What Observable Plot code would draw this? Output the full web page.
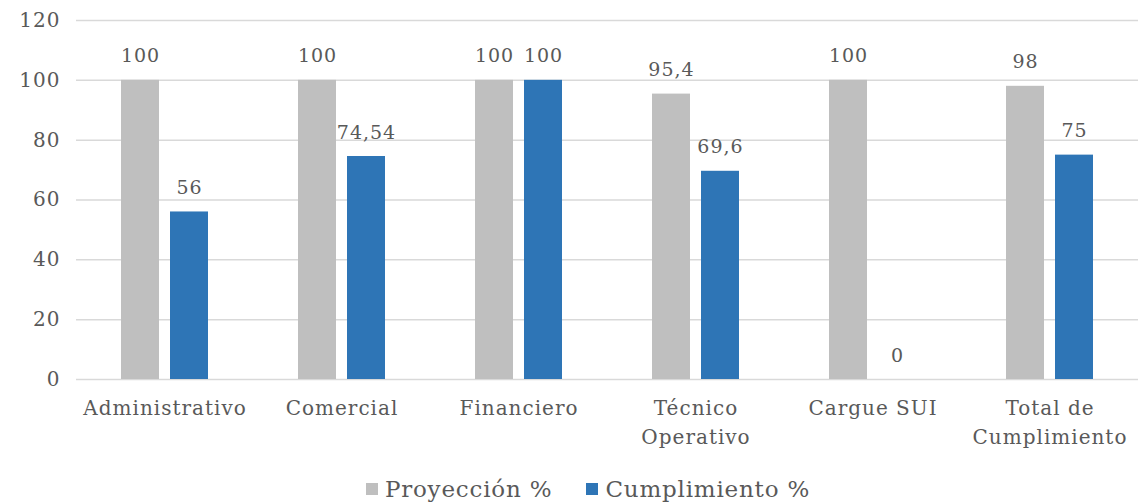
<!DOCTYPE html>
<html><head><meta charset="utf-8">
<script src="https://cdn.jsdelivr.net/npm/d3@7"></script>
<script src="https://cdn.jsdelivr.net/npm/@observablehq/plot@0.6"></script>
<style>
body{margin:0;background:#fff;width:1140px;height:504px;overflow:hidden;font-family:"DejaVu Serif",serif;}
svg text{letter-spacing:1px;}
#legend{display:flex;justify-content:center;align-items:center;height:44px;padding-top:14px;box-sizing:border-box;color:#595959;font-size:23px;letter-spacing:0.8px;padding-left:36px;}
#legend span.sw{display:inline-block;width:12px;height:12px;margin-right:7px;}
#legend .it{display:flex;align-items:center;margin:0 17px;}
</style></head><body>
<div id="chart"></div>
<div id="legend"></div>
<script>
const categories = ["Administrativo","Comercial","Financiero","Técnico\nOperativo","Cargue SUI","Total de\nCumplimiento"];
const series = ["Proyección %","Cumplimiento %"];
const proyeccion = [100,100,100,95.4,100,98];
const cumplimiento = [56,74.54,100,69.6,0,75];
const yTicks = [0,20,40,60,80,100,120];
const colors = ["#BFBFBF","#2E75B6"];

const data = [];
categories.forEach((c,i)=>{
  data.push({cat:c, s:series[0], v:proyeccion[i]});
  data.push({cat:c, s:series[1], v:cumplimiento[i]});
});
const fmt = v => String(v).replace(".", ",");

const plot = Plot.plot({
  width:1140, height:460,
  marginLeft:74, marginRight:0, marginTop:20, marginBottom:81,
  style:{fontFamily:"DejaVu Serif, serif", fontSize:"18px", color:"#595959", background:"#fff"},
  fx:{domain:categories, padding:0, label:null},
  x:{domain:series, paddingInner:0.23, paddingOuter:0.9, axis:null, label:null},
  y:{domain:[0,120], ticks:yTicks, label:null},
  color:{domain:series, range:colors},
  marks:[
    Plot.gridY(yTicks, {stroke:"#D9D9D9", strokeOpacity:1, strokeWidth:1.5}),
    Plot.axisY(yTicks, {tickSize:0, tickPadding:16, fontSize:20, fill:"#595959", label:null}),
    Plot.axisFx({anchor:"bottom", tickSize:0, tickPadding:15, fontSize:20, fill:"#595959", lineHeight:1.45, label:null}),
    Plot.barY(data, {fx:"cat", x:"s", y:"v", fill:"s"}),
    Plot.text(data, {fx:"cat", x:"s", y:"v", text:d=>fmt(d.v), dy:-24, fontSize:19, fill:"#595959"})
  ]
});
document.getElementById("chart").appendChild(plot);
const lg = document.getElementById("legend");
series.forEach((s,i)=>{
  const it = document.createElement("div"); it.className="it";
  it.innerHTML = `<span class="sw" style="background:${colors[i]}"></span>${s}`;
  lg.appendChild(it);
});
</script>
</body></html>
